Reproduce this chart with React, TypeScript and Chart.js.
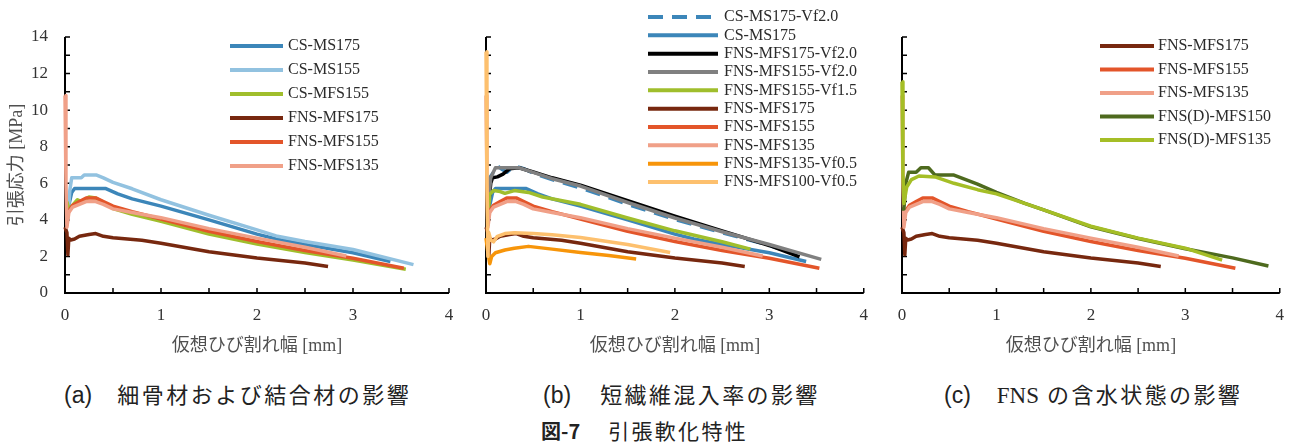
import React, { useEffect, useRef } from 'react';
import { Chart, registerables } from 'chart.js';

Chart.register(...registerables);

type Pt = [number, number];

// ---------------- data ----------------
const X_LABEL_TICKS = [0, 1, 2, 3, 4];
const Y_LABEL_TICKS = [0, 2, 4, 6, 8, 10, 12, 14];
const X_MARKS = [0, 0.5, 1, 1.5, 2, 2.5, 3, 3.5, 4];
const Y_MARKS = [0, 1, 2, 3, 4, 5, 6, 7, 8, 9, 10, 11, 12, 13, 14];

const X_TITLE = '仮想ひび割れ幅 [mm]';
const Y_TITLE = '引張応力 [MPa]';

const CS_MS175: Pt[] = [[0.02, 3.7], [0.04, 4.8], [0.07, 5.5], [0.1, 5.72], [0.25, 5.72], [0.42, 5.72], [0.55, 5.42], [0.7, 5.15], [1.0, 4.75], [1.5, 4.0], [2.0, 3.22], [2.2, 2.95], [2.5, 2.65], [3.0, 2.2], [3.39, 1.72]];
const CS_MS155: Pt[] = [[0.03, 4.0], [0.05, 5.6], [0.07, 6.3], [0.17, 6.3], [0.2, 6.45], [0.33, 6.45], [0.4, 6.3], [0.5, 6.05], [0.7, 5.7], [1.0, 5.1], [1.5, 4.25], [2.0, 3.45], [2.2, 3.12], [2.5, 2.82], [3.0, 2.38], [3.63, 1.55]];
const CS_MFS155: Pt[] = [[0.02, 5.0], [0.04, 4.6], [0.08, 4.8], [0.13, 5.1], [0.17, 5.0], [0.25, 5.25], [0.32, 5.2], [0.4, 4.95], [0.5, 4.62], [0.7, 4.3], [1.0, 3.92], [1.5, 3.22], [2.0, 2.68], [2.5, 2.22], [3.0, 1.8], [3.55, 1.3]];
const FNS_MFS175: Pt[] = [[0, 3.6], [0.02, 3.3], [0.03, 2.1], [0.04, 3.0], [0.06, 2.9], [0.1, 2.95], [0.15, 3.1], [0.25, 3.2], [0.32, 3.25], [0.4, 3.1], [0.5, 3.02], [0.8, 2.88], [1.0, 2.72], [1.5, 2.26], [2.0, 1.92], [2.5, 1.64], [2.74, 1.45]];
const FNS_MFS155: Pt[] = [[0.02, 4.0], [0.04, 4.5], [0.08, 4.8], [0.15, 5.0], [0.22, 5.2], [0.32, 5.2], [0.4, 5.0], [0.5, 4.75], [0.7, 4.45], [1.0, 4.05], [1.5, 3.38], [2.0, 2.82], [2.5, 2.32], [3.0, 1.9], [3.53, 1.35]];
const FNS_MFS135: Pt[] = [[0, 10.8], [0.01, 6.0], [0.02, 3.6], [0.04, 4.4], [0.08, 4.7], [0.15, 4.85], [0.22, 5.0], [0.32, 5.0], [0.4, 4.85], [0.5, 4.6], [0.7, 4.4], [1.0, 4.12], [1.5, 3.52], [2.0, 3.0], [2.5, 2.5], [2.93, 2.02]];

const CS_MS175_VF20: Pt[] = [[0.02, 4.5], [0.04, 6.3], [0.08, 6.6], [0.12, 6.95], [0.16, 6.8], [0.22, 6.6], [0.3, 6.95], [0.4, 6.8], [0.5, 6.55], [0.7, 6.2], [1.0, 5.75], [1.5, 4.85], [2.0, 4.02], [2.5, 3.3], [3.0, 2.6], [3.3, 2.1]];
const FNS_MFS175_VF20: Pt[] = [[0.02, 4.4], [0.05, 6.0], [0.07, 6.3], [0.12, 6.35], [0.18, 6.5], [0.25, 6.8], [0.35, 6.85], [0.5, 6.62], [0.7, 6.3], [1.0, 5.9], [1.5, 5.05], [2.0, 4.2], [2.5, 3.4], [3.0, 2.6], [3.32, 1.98]];
const FNS_MFS155_VF20: Pt[] = [[0.02, 4.6], [0.05, 6.3], [0.1, 6.85], [0.35, 6.85], [0.5, 6.6], [0.7, 6.25], [1.0, 5.85], [1.5, 4.95], [2.0, 4.1], [2.5, 3.35], [3.0, 2.65], [3.55, 1.84]];
const FNS_MFS155_VF15: Pt[] = [[0.02, 4.0], [0.04, 5.4], [0.08, 5.6], [0.15, 5.55], [0.2, 5.45], [0.3, 5.6], [0.45, 5.5], [0.6, 5.25], [1.0, 4.85], [1.5, 4.1], [2.0, 3.4], [2.5, 2.8], [2.8, 2.4]];
const FNS_MFS135_VF05: Pt[] = [[0, 3.0], [0.02, 2.2], [0.04, 1.6], [0.06, 2.0], [0.1, 2.2], [0.2, 2.35], [0.3, 2.45], [0.45, 2.55], [0.7, 2.4], [1.0, 2.22], [1.3, 2.05], [1.59, 1.86]];
const FNS_MFS100_VF05: Pt[] = [[0, 13.2], [0.01, 6.0], [0.02, 2.0], [0.03, 3.3], [0.05, 2.9], [0.08, 2.8], [0.12, 3.1], [0.2, 3.25], [0.3, 3.3], [0.5, 3.25], [0.7, 3.18], [1.0, 3.04], [1.5, 2.65], [1.95, 2.22]];

const FNSD_MFS150: Pt[] = [[0, 4.6], [0.02, 4.6], [0.04, 6.0], [0.07, 6.6], [0.15, 6.6], [0.2, 6.85], [0.28, 6.85], [0.35, 6.45], [0.55, 6.45], [0.8, 5.95], [1.0, 5.5], [1.3, 4.9], [1.5, 4.55], [2.0, 3.62], [2.5, 2.98], [3.0, 2.42], [3.5, 1.92], [3.88, 1.48]];
const FNSD_MFS135: Pt[] = [[0, 11.55], [0.01, 6.5], [0.02, 4.9], [0.05, 5.8], [0.1, 6.2], [0.18, 6.4], [0.35, 6.35], [0.55, 6.0], [0.8, 5.65], [1.0, 5.42], [1.3, 4.9], [1.5, 4.55], [2.0, 3.65], [2.5, 3.0], [3.0, 2.45], [3.39, 1.8]];

const SERIES_DATA: Record<string, Pt[]> = {
  'CS-MS175-Vf2.0': CS_MS175_VF20,
  'CS-MS175': CS_MS175,
  'CS-MS155': CS_MS155,
  'CS-MFS155': CS_MFS155,
  'FNS-MFS175-Vf2.0': FNS_MFS175_VF20,
  'FNS-MFS155-Vf2.0': FNS_MFS155_VF20,
  'FNS-MFS155-Vf1.5': FNS_MFS155_VF15,
  'FNS-MFS175': FNS_MFS175,
  'FNS-MFS155': FNS_MFS155,
  'FNS-MFS135': FNS_MFS135,
  'FNS-MFS135-Vf0.5': FNS_MFS135_VF05,
  'FNS-MFS100-Vf0.5': FNS_MFS100_VF05,
  'FNS(D)-MFS150': FNSD_MFS150,
  'FNS(D)-MFS135': FNSD_MFS135,
};

const PANEL_A_SERIES = ['CS-MS175', 'CS-MS155', 'CS-MFS155', 'FNS-MFS175', 'FNS-MFS155', 'FNS-MFS135'];
const PANEL_B_SERIES = ['CS-MS175-Vf2.0', 'CS-MS175', 'FNS-MFS175-Vf2.0', 'FNS-MFS155-Vf2.0', 'FNS-MFS155-Vf1.5', 'FNS-MFS175', 'FNS-MFS155', 'FNS-MFS135', 'FNS-MFS135-Vf0.5', 'FNS-MFS100-Vf0.5'];
const PANEL_C_SERIES = ['FNS-MFS175', 'FNS-MFS155', 'FNS-MFS135', 'FNS(D)-MFS150', 'FNS(D)-MFS135'];

// ---------------- styles ----------------
const STYLE: Record<string, { color: string; dash?: number[] }> = {
  'CS-MS175-Vf2.0': { color: '#3C86B9', dash: [15, 9] },
  'CS-MS175': { color: '#3C86B9' },
  'CS-MS155': { color: '#92C2E0' },
  'CS-MFS155': { color: '#A0BE2C' },
  'FNS-MFS175-Vf2.0': { color: '#000000' },
  'FNS-MFS155-Vf2.0': { color: '#808080' },
  'FNS-MFS155-Vf1.5': { color: '#A0BE2C' },
  'FNS-MFS175': { color: '#77280F' },
  'FNS-MFS155': { color: '#E3552A' },
  'FNS-MFS135': { color: '#F0A088' },
  'FNS-MFS135-Vf0.5': { color: '#F7950A' },
  'FNS-MFS100-Vf0.5': { color: '#FDC06E' },
  'FNS(D)-MFS150': { color: '#4E6A1E' },
  'FNS(D)-MFS135': { color: '#A5BE26' },
};

const SERIF = '"Liberation Serif", "Times New Roman", "Noto Sans CJK JP", serif';
const CJK = '"Noto Sans CJK JP", sans-serif';
const SANS = '"Liberation Sans", Arial, sans-serif';
const CANVAS_H = 360;

type PanelSpec = {
  series: string[];
  left: number;
  width: number;
  yWidth: number;
  padRight: number;
  showYLabels: boolean;
  legend: { lx1: number; lx2: number; tx: number; ly: number; ldy: number };
};

const PANELS: PanelSpec[] = [
  { series: PANEL_A_SERIES, left: 0, width: 470, yWidth: 65, padRight: 21, showYLabels: true, legend: { lx1: 230, lx2: 283, tx: 288, ly: 46, ldy: 24 } },
  { series: PANEL_B_SERIES, left: 440, width: 440, yWidth: 46, padRight: 14, showYLabels: false, legend: { lx1: 208, lx2: 278, tx: 284, ly: 17, ldy: 18.33 } },
  { series: PANEL_C_SERIES, left: 870, width: 426, yWidth: 32, padRight: 13, showYLabels: false, legend: { lx1: 230, lx2: 284, tx: 288, ly: 46, ldy: 23.5 } },
];

const axisPlugin = {
  id: 'axisMarks',
  beforeDatasetsDraw(chart: any) {
    const { ctx, scales } = chart;
    const xs = scales.x;
    const ys = scales.y;
    const x0 = xs.getPixelForValue(X_MARKS[0]);
    const y0 = ys.getPixelForValue(Y_MARKS[0]);
    ctx.save();
    ctx.strokeStyle = '#000';
    ctx.lineWidth = 2;
    ctx.beginPath();
    ctx.moveTo(x0, ys.getPixelForValue(Y_MARKS[Y_MARKS.length - 1]));
    ctx.lineTo(x0, y0);
    ctx.lineTo(xs.getPixelForValue(X_MARKS[X_MARKS.length - 1]), y0);
    ctx.stroke();
    ctx.lineWidth = 1.5;
    ctx.beginPath();
    Y_MARKS.forEach((v) => {
      const p = ys.getPixelForValue(v);
      ctx.moveTo(x0, p);
      ctx.lineTo(x0 + 5, p);
    });
    X_MARKS.forEach((v) => {
      const p = xs.getPixelForValue(v);
      ctx.moveTo(p, y0);
      ctx.lineTo(p, y0 - 5);
    });
    ctx.stroke();
    ctx.restore();
  },
};

function legendPlugin(spec: PanelSpec['legend']) {
  return {
    id: 'inlineLegend',
    afterDatasetsDraw(chart: any) {
      const ctx = chart.ctx;
      ctx.save();
      ctx.font = `16px ${SERIF}`;
      ctx.textBaseline = 'middle';
      ctx.textAlign = 'left';
      chart.data.datasets.forEach((ds: any, i: number) => {
        const y = spec.ly + i * spec.ldy;
        ctx.strokeStyle = ds.borderColor;
        ctx.lineWidth = 4;
        ctx.setLineDash(ds.borderDash || []);
        ctx.beginPath();
        ctx.moveTo(spec.lx1, y);
        ctx.lineTo(spec.lx2, y);
        ctx.stroke();
        ctx.setLineDash([]);
        ctx.fillStyle = '#2b2b2b';
        ctx.fillText(ds.label, spec.tx, y);
      });
      ctx.restore();
    },
  };
}

function buildConfig(spec: PanelSpec): any {
  const n = spec.series.length;
  return {
    type: 'line',
    data: {
      datasets: spec.series.map((name, i) => ({
        label: name,
        data: SERIES_DATA[name].map(([x, y]) => ({ x, y })),
        borderColor: STYLE[name].color,
        backgroundColor: STYLE[name].color,
        borderWidth: 3.5,
        borderDash: STYLE[name].dash || [],
        borderJoinStyle: 'round',
        pointRadius: 0,
        pointHoverRadius: 0,
        fill: false,
        tension: 0,
        order: n - i,
        clip: false,
      })),
    },
    options: {
      animation: false,
      responsive: false,
      devicePixelRatio: 1,
      events: [],
      layout: { padding: { top: 37, left: 0, right: spec.padRight, bottom: 0 } },
      plugins: { legend: { display: false }, tooltip: { enabled: false } },
      scales: {
        x: {
          type: 'linear',
          min: X_LABEL_TICKS[0],
          max: X_LABEL_TICKS[X_LABEL_TICKS.length - 1],
          grid: { display: false, drawTicks: false },
          border: { display: false },
          ticks: {
            stepSize: 1,
            padding: 12,
            maxRotation: 0,
            autoSkip: false,
            color: '#333333',
            font: { family: SERIF, size: 17 },
          },
          title: {
            display: true,
            text: X_TITLE,
            color: '#505050',
            font: { family: SERIF, size: 18 },
            padding: { top: 0, bottom: 3 },
          },
          afterFit: (s: any) => {
            s.height = CANVAS_H - 293;
          },
        },
        y: {
          type: 'linear',
          min: Y_LABEL_TICKS[0],
          max: Y_LABEL_TICKS[Y_LABEL_TICKS.length - 1],
          grid: { display: false, drawTicks: false },
          border: { display: false },
          ticks: {
            display: spec.showYLabels,
            stepSize: 2,
            padding: 17,
            color: '#333333',
            font: { family: SERIF, size: 17 },
          },
          title: {
            display: spec.showYLabels,
            text: Y_TITLE,
            color: '#505050',
            font: { family: SERIF, size: 18 },
            padding: { top: 6, bottom: 0 },
          },
          afterFit: (s: any) => {
            s.width = spec.yWidth;
          },
        },
      },
    },
    plugins: [axisPlugin, legendPlugin(spec.legend)],
  };
}

function Panel({ spec }: { spec: PanelSpec }) {
  const ref = useRef<HTMLCanvasElement>(null);
  useEffect(() => {
    const chart = new Chart(ref.current as HTMLCanvasElement, buildConfig(spec));
    return () => chart.destroy();
  }, [spec]);
  return (
    <canvas
      ref={ref}
      width={spec.width}
      height={CANVAS_H}
      style={{ position: 'absolute', left: spec.left, top: 0, width: spec.width, height: CANVAS_H }}
    />
  );
}

type Part = { text: string; font: string; size: number; spacing?: number; weight?: number; gap?: number };
const CAPTIONS: { left: number; top: number; parts: Part[] }[] = [
  {
    left: 64, top: 393, parts: [
      { text: '(a)', font: SANS, size: 23 },
      { text: '細骨材および結合材の影響', font: CJK, size: 22, spacing: 2.5, gap: 25 },
    ],
  },
  {
    left: 543, top: 393, parts: [
      { text: '(b)', font: SANS, size: 23 },
      { text: '短繊維混入率の影響', font: CJK, size: 22, spacing: 2.4, gap: 29 },
    ],
  },
  {
    left: 944, top: 393, parts: [
      { text: '(c)', font: SANS, size: 23 },
      { text: 'FNS', font: SERIF, size: 23, gap: 26 },
      { text: 'の含水状態の影響', font: CJK, size: 22, spacing: 2.4, gap: 8 },
    ],
  },
  {
    left: 541, top: 430, parts: [
      { text: '図-7', font: CJK, size: 20, weight: 700 },
      { text: '引張軟化特性', font: CJK, size: 21, spacing: 2.3, gap: 28 },
    ],
  },
];

export default function App() {
  return (
    <div style={{ position: 'absolute', left: 0, top: 0, width: 1296, height: 446, background: '#fff', overflow: 'hidden' }}>
      {PANELS.map((p, i) => (
        <Panel key={i} spec={p} />
      ))}
      {CAPTIONS.map((c, i) => (
        <div
          key={i}
          style={{
            position: 'absolute',
            left: c.left,
            top: c.top - 15,
            height: 30,
            lineHeight: '30px',
            whiteSpace: 'nowrap',
            color: '#222',
          }}
        >
          {c.parts.map((p, j) => (
            <span
              key={j}
              style={{
                fontFamily: p.font,
                fontSize: p.size,
                fontWeight: p.weight || 400,
                letterSpacing: p.spacing ? `${p.spacing}px` : undefined,
                marginLeft: p.gap || 0,
              }}
            >
              {p.text}
            </span>
          ))}
        </div>
      ))}
    </div>
  );
}
